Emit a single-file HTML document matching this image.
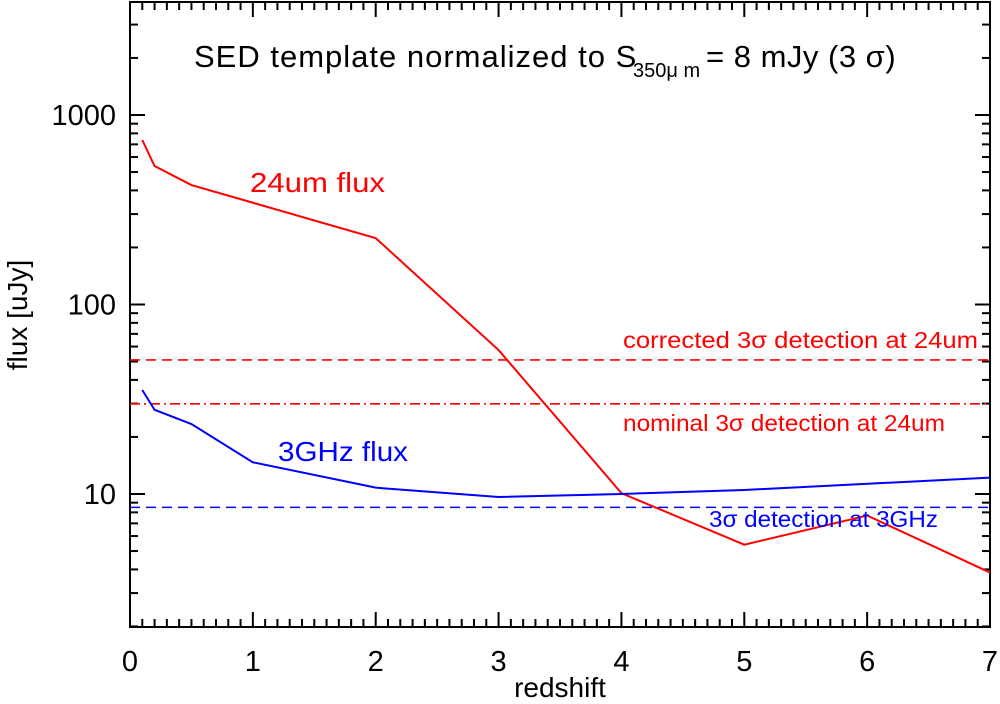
<!DOCTYPE html>
<html><head><meta charset="utf-8"><style>
body{margin:0;background:#fff;}
svg{display:block;font-family:"Liberation Sans",sans-serif;}
</style></head><body>
<svg id="chart" width="1000" height="704" viewBox="0 0 1000 704" xmlns="http://www.w3.org/2000/svg"></svg>
<script>
const zRed=[0.1,0.2,0.5,2,3,4,5,6,7];
const fluxRed=[738,538,427,224,57.5,10.1,5.4,7.7,3.85];
const zBlue=[0.1,0.2,0.5,1,2,3,4,5,7];
const fluxBlue=[35.4,27.8,23.4,14.7,10.8,9.64,10,10.5,12.2];
const limCorrected24=51;
const limNominal24=29.9;
const lim3GHz=8.5;
const xTicks=[0,1,2,3,4,5,6,7];
const yTicks=[10,100,1000];

const X0=130,X1=990,Y0=2,Y1=627;
const zMin=0,zMax=7;
const yDecPx=189.5, yRef=494;
function sx(z){return X0+(z-zMin)/(zMax-zMin)*(X1-X0);}
function sy(v){return yRef-(Math.log10(v)-1)*yDecPx;}
const svg=document.getElementById('chart');
const NS='http://www.w3.org/2000/svg';
function mk(tag,attrs,parent){const e=document.createElementNS(NS,tag);for(const k in attrs)e.setAttribute(k,attrs[k]);(parent||svg).appendChild(e);return e;}

const frame=mk('rect',{x:X0,y:Y0,width:X1-X0,height:Y1-Y0,fill:'none',stroke:'#000','stroke-width':2});



const xt=mk('g',{stroke:'#000','stroke-width':2});


for(let i=0;i<=70;i++){const z=i/10;const x=sx(z);const L=(i%10===0)?15:8;
  mk('line',{x1:x,y1:Y1,x2:x,y2:Y1-L},xt);mk('line',{x1:x,y1:Y0,x2:x,y2:Y0+L},xt);}
xTicks.forEach(t=>{const e=mk('text',{x:sx(t),y:671,'font-size':29,'text-anchor':'middle',fill:'#000'});e.textContent=t;
  
  });
const yt=mk('g',{stroke:'#000','stroke-width':2});


for(let d=0;d<=3;d++){for(let m=1;m<=9;m++){const v=m*Math.pow(10,d);const y=sy(v);if(y<Y0||y>Y1)continue;const L=m===1?15:8;
  mk('line',{x1:X0,y1:y,x2:X0+L,y2:y},yt);mk('line',{x1:X1,y1:y,x2:X1-L,y2:y},yt);}}
yTicks.forEach(t=>{const e=mk('text',{x:116,y:sy(t)+10,'font-size':29,'text-anchor':'end',fill:'#000'});e.textContent=t;
  
  });

let e=mk('text',{x:560,y:697,'font-size':28,'text-anchor':'middle'});e.textContent='redshift';


e=mk('text',{x:0,y:0,'font-size':28,'text-anchor':'middle',transform:'translate(27,315) rotate(-90)'});e.textContent='flux [uJy]';



const tg=mk('g',{'font-size':31,fill:'#000'});


mk('text',{x:194,y:67,'letter-spacing':1.0},tg).textContent='SED template normalized to S';
mk('text',{x:633,y:77,'font-size':20},tg).textContent='350μ m';
mk('text',{x:706,y:67,'letter-spacing':0.5},tg).textContent='= 8 mJy (3 σ)';

function hline(v,color,dash,name){const l=mk('line',{x1:X0,x2:X1,y1:sy(v),y2:sy(v),stroke:color,'stroke-width':1.6,'stroke-dasharray':dash});
  
  }
hline(limCorrected24,'#f00','10 6','corrected-24um-limit-line');
hline(limNominal24,'#f00','10 4 2 4','nominal-24um-limit-line');
hline(lim3GHz,'#00f','10 6','3ghz-limit-line');

function series(zs,vs,color,name){const p=mk('polyline',{points:zs.map((z,i)=>sx(z)+','+sy(vs[i])).join(' '),fill:'none',stroke:color,'stroke-width':2});
  
  }
series(zRed,fluxRed,'#f00','24um-flux-line');
series(zBlue,fluxBlue,'#00f','3ghz-flux-line');

function lab(x,y,txt,color,size,len,name){const t=mk('text',{x:x,y:y,'font-size':size,fill:color,textLength:len,lengthAdjust:'spacingAndGlyphs'});t.textContent=txt;
  
  }
lab(250,192,'24um flux','#f00',28,135,'24um-flux-label');
lab(278,461,'3GHz flux','#00f',28,130,'3ghz-flux-label');
lab(623,348,'corrected 3σ detection at 24um','#f00',23,355,'corrected-24um-limit-label');
lab(623,431,'nominal 3σ detection at 24um','#f00',23,322,'nominal-24um-limit-label');
lab(709,527,'3σ detection at 3GHz','#00f',23,229,'3ghz-limit-label');
</script>
</body></html>
